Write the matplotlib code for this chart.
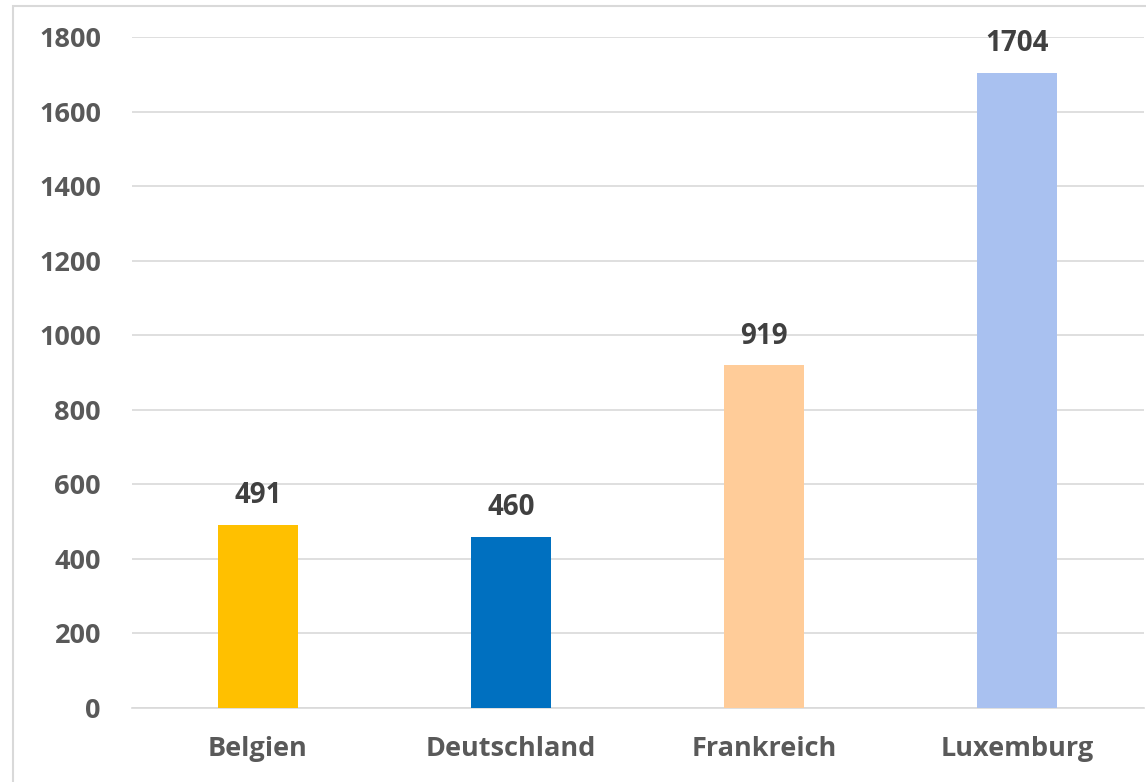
import matplotlib.pyplot as plt
from matplotlib.patches import Rectangle

categories = ["Belgien", "Deutschland", "Frankreich", "Luxemburg"]
values = [491, 460, 919, 1704]
colors = ["#FFC000", "#0070C0", "#FFCC99", "#A9C1F0"]
yticks = [0, 200, 400, 600, 800, 1000, 1200, 1400, 1600, 1800]

plt.rcParams["font.family"] = ["Open Sans", "DejaVu Sans"]
plt.rcParams["font.weight"] = "bold"

W, H = 1146, 782
fig = plt.figure(figsize=(W / 100, H / 100), dpi=100)
fig.patches.append(Rectangle((12.5 / W, -0.1), 1.2, 1.1 - 6.5 / H,
                             transform=fig.transFigure, fill=False,
                             edgecolor="#D9D9D9", linewidth=1.5))

ax = fig.add_axes([131.5 / W, 1 - 708 / H, 1012 / W, 671 / H])
x = range(len(categories))
ax.bar(x, values, width=0.316, color=colors, zorder=3)
for xi, v in zip(x, values):
    ax.text(xi, v + 40, str(v), ha="center", va="bottom",
            fontsize=20, fontweight="bold", color="#404040")

ax.set_xlim(-0.5, len(categories) - 0.5)
ax.set_ylim(0, 1800)
ax.set_yticks(yticks)
ax.set_xticks(list(x), categories)
ax.grid(axis="y", color="#D9D9D9", linewidth=1.2, zorder=0)
for side in ["top", "right", "left"]:
    ax.spines[side].set_visible(False)
ax.spines["bottom"].set_color("#D9D9D9")
ax.spines["bottom"].set_linewidth(1.2)
ax.tick_params(length=0, labelsize=19.5, labelcolor="#595959")
ax.tick_params(axis="y", pad=22)
ax.tick_params(axis="x", pad=20)

fig.savefig("out.png", dpi=100)
